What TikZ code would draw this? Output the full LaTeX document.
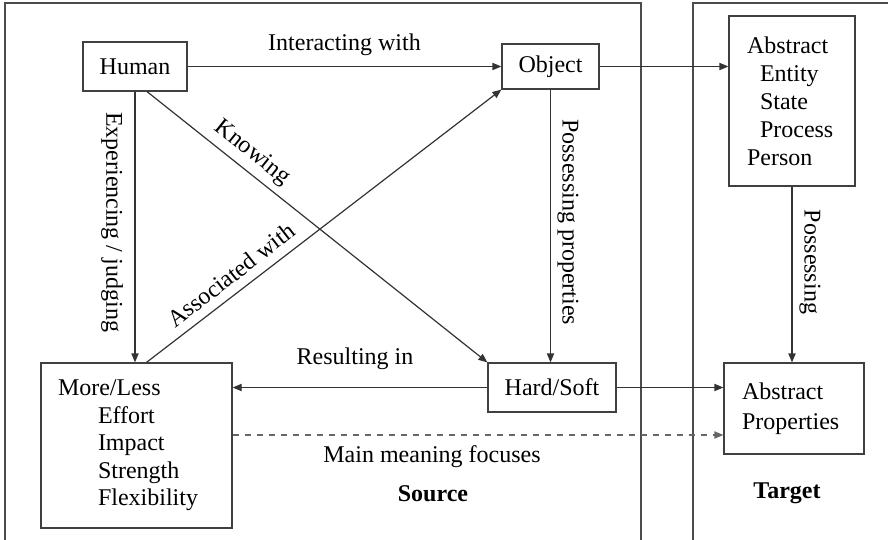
\documentclass[tikz,border=0pt]{standalone}
\usepackage{fontspec}
\setmainfont{Liberation Serif}
\usetikzlibrary{arrows.meta}

\begin{document}
\begin{tikzpicture}[x=0.5pt,y=-0.5pt,>={Triangle[length=4.5pt,width=3.6pt]},
  line width=0.6pt,
  every node/.style={font=\fontsize{12}{14}\selectfont},
  concept/.style={draw=black!75,inner sep=0pt},
  lbl/.style={inner sep=1pt},
  frame/.style={draw=black!70},
  link/.style={draw=black!80,->}]
\useasboundingbox (0,0) rectangle (888,540);
% ---- frames ----
\draw[frame] (5,540) -- (5,3) -- (641,3) -- (641,540);
\draw[frame] (693,540) -- (693,3) -- (888,3);
% ---- source ----
\node[concept,minimum width=52pt,minimum height=24.5pt] (human) at (135,66.5) {Human};
\node[concept,minimum width=48.5pt,minimum height=22.5pt] (object) at (550.5,66.5) {Object};
\node[concept,minimum width=64pt,minimum height=24.5pt] (hardsoft) at (552,387.5) {Hard/Soft};
\node[concept,minimum width=95.5pt,minimum height=82.5pt,
      inner xsep=8.5pt,text width=78.5pt,align=left,
      font=\fontsize{12}{13.75}\selectfont] (moreless) at (136.5,445.5)
  {More/Less\\\hspace*{20pt}Effort\\\hspace*{20pt}Impact\\\hspace*{20pt}Strength\\\hspace*{20pt}Flexibility};
% ---- target ----
\node[concept,minimum width=63pt,minimum height=85pt,
      inner xsep=9pt,text width=45pt,align=left] (abstract) at (792,101)
  {Abstract\\\hspace*{6.5pt}Entity\\\hspace*{6.5pt}State\\\hspace*{6.5pt}Process\\Person};
\node[concept,minimum width=70pt,minimum height=45.5pt,
      inner xsep=9pt,text width=52pt,align=left,
      font=\fontsize{12}{15}\selectfont] (absprop) at (794,408.5)
  {Abstract\\Properties};
% ---- connectors ----
\draw[link] (human.east) -- (object.west);
\draw[link] (object.east) -- (object.east -| abstract.west);
\draw[link] (human.south) -- (human.south |- moreless.north);
\draw[link] ([xshift=6pt]human.south) -- (hardsoft.north west);
\draw[link] ([xshift=5pt]moreless.north) -- (object.south west);
\draw[link] (object.south) -- (object.south |- hardsoft.north);
\draw[link] (hardsoft.west) -- (hardsoft.west -| moreless.east);
\draw[link] (hardsoft.east) -- (hardsoft.east -| absprop.west);
\draw[link] (abstract.south) -- (abstract.south |- absprop.north);
\coordinate (dashstart) at ([yshift=5.25pt]moreless.east);
\draw[link,dashed,draw=black!60] (dashstart) -- (dashstart -| absprop.west);
% ---- labels ----
\node[lbl] (interlbl) at (344.5,45) {Interacting with};
\node[lbl] (resultlbl) at (355,359) {Resulting in};
\node[lbl,rotate=-90] (explbl) at (112,222) {Experiencing / judging};
\node[lbl,rotate=-90] (posproplbl) at (568,222) {Possessing properties};
\node[lbl,rotate=-90] (poslbl) at (810,262) {Possessing};
\node[lbl,rotate=-38.7] (knowlbl) at (252,153) {Knowing};
\node[lbl,rotate=37.7] (assoclbl) at (231,275) {Associated with};
\node[lbl] (mainlbl) at (432,457) {Main meaning focuses};
\node[lbl,font=\fontsize{12}{14}\selectfont\bfseries] (srclbl) at (433,494) {Source};
\node[lbl,font=\fontsize{12}{14}\selectfont\bfseries] (tgtlbl) at (787,493) {Target};
\end{tikzpicture}
\end{document}
